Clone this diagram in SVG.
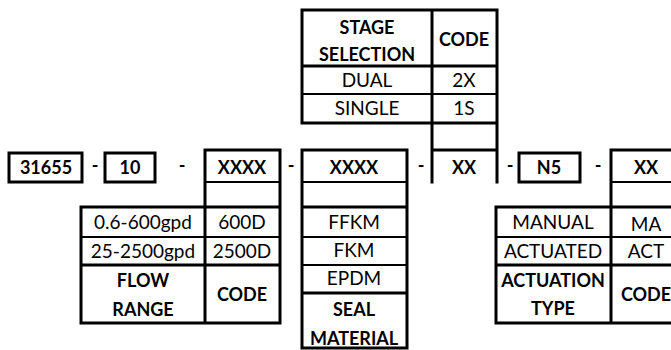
<svg xmlns="http://www.w3.org/2000/svg" width="671" height="350" viewBox="0 0 671 350">
<style>
.b{fill:none;stroke:#000;stroke-width:3;stroke-linecap:square}
.t{fill:none;stroke:#000;stroke-width:2}
text{font-family:Lato,"Open Sans","Liberation Sans",sans-serif;font-size:19px;fill:#000;text-anchor:middle}
.bd{font-weight:bold;font-size:18px}
</style>
<rect width="671" height="350" fill="#fff"/>
<g id="part-base">
<rect class="b" x="9" y="153" width="73" height="29"/>
<text class="bd" x="46" y="174">31655</text>
</g>
<g id="part-size">
<rect class="b" x="105" y="153" width="50" height="29"/>
<text class="bd" x="130" y="174">10</text>
</g>
<g id="flow-range">
<path class="b" d="M205,150H280M205,150V323M280,150V323M81,207H280M81,207V323M81,265H280M81,323H280"/>
<path class="t" d="M205,182H280M81,237H280"/>
<text class="bd" x="242" y="174">XXXX</text>
<text x="143" y="229">0.6-600gpd</text>
<text x="242" y="229">600D</text>
<text x="143" y="258">25-2500gpd</text>
<text x="242" y="258">2500D</text>
<text class="bd" x="143" y="287">FLOW</text>
<text class="bd" x="143" y="316">RANGE</text>
<text class="bd" x="242" y="301">CODE</text>
</g>
<g id="seal-material">
<path class="b" d="M302,150H407M302,150V348M407,150V348M302,207H407M302,293H407M302,348H407"/>
<path class="t" d="M302,182H407M302,237H407M302,265H407"/>
<text class="bd" x="354" y="174">XXXX</text>
<text x="354" y="229">FFKM</text>
<text x="354" y="257">FKM</text>
<text x="354" y="285">EPDM</text>
<text class="bd" x="354" y="316">SEAL</text>
<text class="bd" x="354" y="345">MATERIAL</text>
</g>
<g id="stage-selection">
<path class="b" d="M302,10H497M302,10V123M302,123H497M432,10V182M497,10V182M302,66H497M432,150H497"/>
<path class="t" d="M302,94H497"/>
<text class="bd" x="367" y="34">STAGE</text>
<text class="bd" x="367" y="61">SELECTION</text>
<text class="bd" x="464" y="46">CODE</text>
<text x="367" y="87">DUAL</text>
<text x="464" y="87">2X</text>
<text x="367" y="115">SINGLE</text>
<text x="464" y="115">1S</text>
<text class="bd" x="464" y="174">XX</text>
</g>
<g id="part-n5">
<rect class="b" x="519" y="153" width="61" height="29"/>
<text class="bd" x="549" y="174">N5</text>
</g>
<g id="actuation-type">
<path class="b" d="M611,150H674M611,150V323M496,207H674M496,207V323M496,265H674M496,323H674"/>
<path class="t" d="M611,182H674M496,237H674"/>
<text class="bd" x="646" y="174">XX</text>
<text x="553" y="229">MANUAL</text>
<text x="646" y="231">MA</text>
<text x="553" y="258">ACTUATED</text>
<text x="646" y="258">ACT</text>
<text class="bd" x="553" y="287">ACTUATION</text>
<text class="bd" x="553" y="315">TYPE</text>
<text class="bd" x="646" y="301">CODE</text>
</g>
<g id="connectors">
<text class="bd" x="95" y="172">-</text>
<text class="bd" x="182" y="172">-</text>
<text class="bd" x="291" y="172">-</text>
<text class="bd" x="421" y="172">-</text>
<text class="bd" x="510" y="172">-</text>
<text class="bd" x="598" y="172">-</text>
</g>
</svg>
